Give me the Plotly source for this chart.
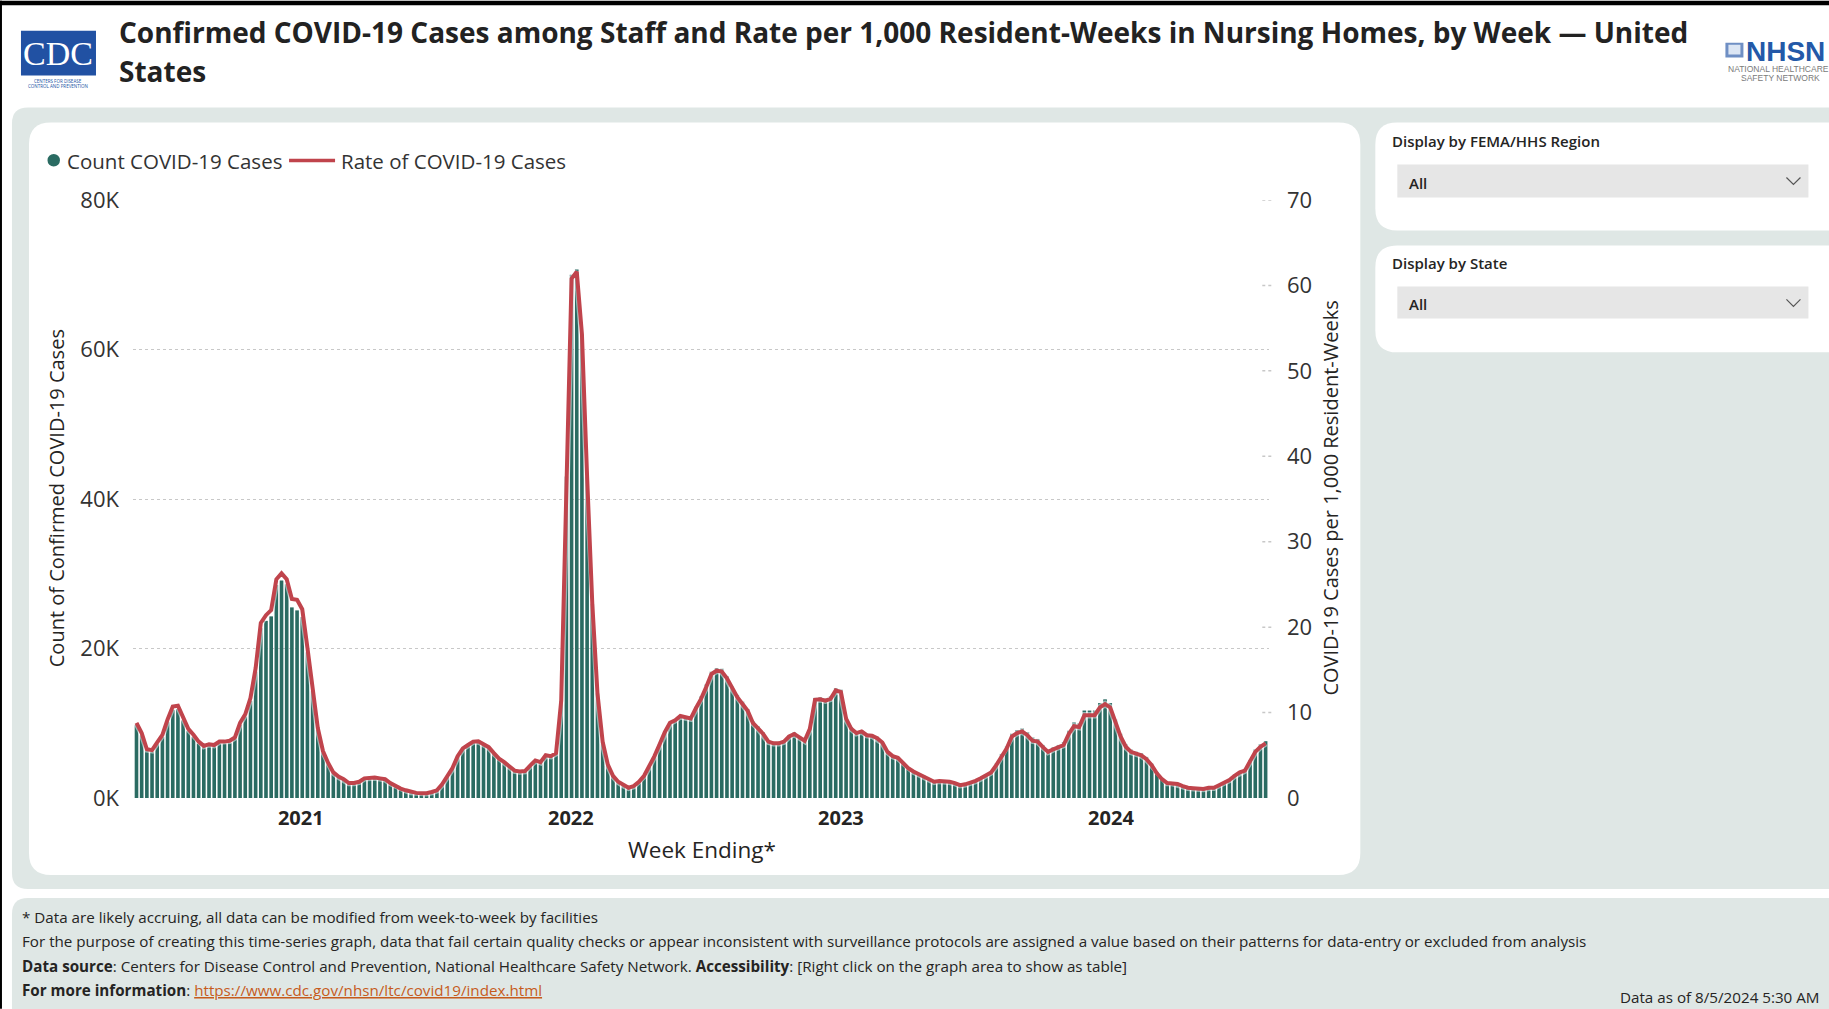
import plotly.graph_objects as go
import pandas as pd

# ---------------- data ----------------
week_start = "2020-05-24"   # first week ending shown

counts = [
    9800, 8400, 6300, 6200, 7200, 8200, 10200, 11800, 11900, 10400,
    9000, 8200, 7300, 6800, 7000, 6900, 7300, 7300, 7400, 7900,
    9800, 10900, 13000, 16900, 22700, 23700, 24300, 28500, 29100, 28600,
    25500, 25100, 24200, 19500, 14300, 9100, 6100, 4600, 3300, 2800,
    2400, 1900, 1900, 2100, 2500, 2600, 2600, 2500, 2400, 1900,
    1500, 1200, 950, 750, 650, 600, 600, 800, 1000, 1800,
    2800, 4000, 5600, 6600, 7100, 7500, 7600, 7200, 6800, 6000,
    5300, 4800, 4200, 3700, 3500, 3600, 4300, 5000, 4800, 5700,
    5600, 6000, 13000, 43000, 70000, 70700, 62000, 43000, 26000, 14000,
    7500, 4500, 3000, 2200, 1700, 1400, 1600, 2200, 3000, 4200,
    5600, 7200, 8800, 10100, 10400, 11000, 10700, 10600, 12200, 13600,
    15200, 16900, 17400, 17300, 16300, 14900, 13800, 12900, 11900, 10300,
    9600, 8800, 7700, 7400, 7400, 7700, 8400, 8800, 8300, 7900,
    9500, 13400, 13500, 13300, 13600, 14700, 14500, 10800, 9500, 8900,
    9100, 8600, 8500, 8200, 7500, 6300, 5700, 5500, 4800, 4100,
    3600, 3300, 3000, 2650, 2250, 2350, 2350, 2250, 2050, 1750,
    1850, 2050, 2350, 2650, 3100, 3600, 4600, 5900, 6900, 8600,
    9100, 9300, 8800, 8100, 7900, 7100, 6500, 6800, 7100, 7500,
    9000, 10100, 10000, 11700, 11700, 11700, 12700, 13200, 12700, 10500,
    8600, 7200, 6500, 6200, 6000, 5500, 4600, 3500, 2600, 2100,
    2100, 2000, 1700, 1500, 1400, 1400, 1300, 1500, 1500, 1800,
    2100, 2500, 3150, 3600, 3900, 5100, 6500, 7200, 7600,
]

rates = [
    8.8, 7.6, 5.7, 5.6, 6.5, 7.4, 9.2, 10.7, 10.8, 9.4,
    8.1, 7.4, 6.6, 6.1, 6.3, 6.2, 6.6, 6.6, 6.7, 7.1,
    8.8, 9.8, 11.7, 15.2, 20.5, 21.4, 22.0, 25.6, 26.3, 25.6,
    23.3, 23.2, 22.1, 17.6, 13.0, 8.2, 5.5, 4.1, 3.0, 2.5,
    2.2, 1.75, 1.75, 1.9, 2.3, 2.4, 2.4, 2.3, 2.2, 1.75,
    1.4, 1.1, 0.9, 0.7, 0.6, 0.55, 0.55, 0.7, 0.9, 1.6,
    2.45, 3.5, 4.9, 5.8, 6.2, 6.6, 6.65, 6.3, 5.95, 5.25,
    4.6, 4.2, 3.7, 3.2, 3.1, 3.15, 3.8, 4.4, 4.2, 5.0,
    4.9, 5.25, 11.4, 37.6, 60.8, 61.6, 54.3, 37.6, 22.75, 12.25,
    6.6, 3.9, 2.6, 1.9, 1.5, 1.2, 1.4, 1.9, 2.6, 3.7,
    4.9, 6.3, 7.7, 8.8, 9.1, 9.6, 9.4, 9.3, 10.5, 11.6,
    13.0, 14.5, 14.9, 14.8, 14.0, 12.8, 11.8, 11.0, 10.2, 8.8,
    8.2, 7.5, 6.6, 6.4, 6.4, 6.6, 7.2, 7.5, 7.1, 6.7,
    8.1, 11.5, 11.55, 11.4, 11.6, 12.6, 12.4, 9.3, 8.1, 7.6,
    7.8, 7.35, 7.3, 7.0, 6.5, 5.4, 4.9, 4.7, 4.1, 3.5,
    3.1, 2.8, 2.5, 2.3, 1.9, 2.0, 2.0, 1.9, 1.75, 1.5,
    1.6, 1.75, 2.0, 2.3, 2.6, 3.0, 3.85, 4.9, 5.8, 7.2,
    7.6, 7.8, 7.35, 6.7, 6.6, 5.95, 5.4, 5.7, 5.95, 6.2,
    7.5, 8.4, 8.3, 9.7, 9.7, 9.7, 10.6, 11.0, 10.6, 8.75,
    7.2, 6.0, 5.4, 5.2, 5.0, 4.55, 3.85, 2.9, 2.2, 1.75,
    1.75, 1.65, 1.4, 1.2, 1.15, 1.15, 1.05, 1.2, 1.2, 1.5,
    1.75, 2.1, 2.6, 3.0, 3.2, 4.3, 5.4, 6.0, 6.4,
]

weeks = pd.date_range(week_start, periods=len(counts), freq="7D")

left_tickvals = [0, 20000, 40000, 60000, 80000]
left_ticktext = ["0K", "20K", "40K", "60K", "80K"]
right_tickvals = [0, 10, 20, 30, 40, 50, 60, 70]
year_tickvals = ["2021-01-01", "2022-01-01", "2023-01-01", "2024-01-01"]
year_ticktext = ["2021", "2022", "2023", "2024"]

count_label = "Count COVID-19 Cases"
rate_label = "Rate of COVID-19 Cases"

# ---------------- layout geometry (pixels) ----------------
W, H = 1829, 1009
L, R_EDGE, T, B_EDGE = 133, 1268.7, 199.5, 798
PW, PH = R_EDGE - L, B_EDGE - T
DAYS_PER_PX = 365.0 / 270.0

x_start = weeks[0] - pd.Timedelta(days=(136.5 - L) * DAYS_PER_PX)
x_end = x_start + pd.Timedelta(days=PW * DAYS_PER_PX)


def X(px):
    return (px - L) / PW


def Y(py):
    return (B_EDGE - py) / PH


BAR = "#2a6b62"
RED = "#c0444c"
FONT = "Open Sans"
TXT = "#252423"
PANEL = "#dfe7e5"

fig = go.Figure()

fig.add_trace(go.Bar(
    x=weeks, y=counts, marker=dict(color=BAR, line=dict(width=0)),
    name=count_label, showlegend=False, yaxis="y",
))
fig.add_trace(go.Scatter(
    x=weeks, y=rates, mode="lines", yaxis="y2", showlegend=False,
    line=dict(color="rgba(255,255,255,0.5)", width=6.5), hoverinfo="skip",
))
fig.add_trace(go.Scatter(
    x=weeks, y=rates, mode="lines", yaxis="y2", name=rate_label, showlegend=False,
    line=dict(color=RED, width=4),
))


def rrect(x0, y0, x1, y1, r):
    p = (f"M {X(x0 + r)},{Y(y0)} L {X(x1 - r)},{Y(y0)} "
         f"Q {X(x1)},{Y(y0)} {X(x1)},{Y(y0 + r)} L {X(x1)},{Y(y1 - r)} "
         f"Q {X(x1)},{Y(y1)} {X(x1 - r)},{Y(y1)} L {X(x0 + r)},{Y(y1)} "
         f"Q {X(x0)},{Y(y1)} {X(x0)},{Y(y1 - r)} L {X(x0)},{Y(y0 + r)} "
         f"Q {X(x0)},{Y(y0)} {X(x0 + r)},{Y(y0)} Z")
    return p


shapes = []


def add_path(path, fill, line_color=None, width=0, layer="below"):
    shapes.append(dict(type="path", path=path, xref="paper", yref="paper",
                       fillcolor=fill, line=dict(color=line_color or fill, width=width),
                       layer=layer))


# background panels
add_path(rrect(12, 107, 1860, 889, 16), PANEL)
add_path(rrect(12, 898, 1860, 1040, 16), PANEL)
# chart card
add_path(rrect(29, 122, 1360, 875, 22), "white")
# slicer cards
add_path(rrect(1375, 122, 1860, 230, 22), "white")
add_path(rrect(1375, 245, 1860, 352, 22), "white")
# dropdown boxes
add_path(rrect(1397, 164, 1808, 197, 0.1), "#e6e6e6")
add_path(rrect(1397, 286, 1808, 318, 0.1), "#e6e6e6")
# chevrons
for cy in (181, 303):
    shapes.append(dict(type="path", xref="paper", yref="paper", layer="above",
                       path=f"M {X(1786)},{Y(cy - 4)} L {X(1793)},{Y(cy + 3)} L {X(1800)},{Y(cy - 4)}",
                       line=dict(color="#555555", width=1.2)))
# page borders
add_path(rrect(0, 0, 1829, 4.5, 0.1), "#000000", layer="above")
add_path(rrect(0, 0, 2, 1009, 0.1), "#000000", layer="above")
# CDC logo box
add_path(rrect(21, 30, 96, 75, 0.1), "#2151a3")
# NHSN icon
add_path(rrect(1725, 42, 1743, 57, 0.1), "#6f8fc4")
add_path(rrect(1728, 44, 1740, 54, 0.1), "#dce6f4")
# manual legend marks
shapes.append(dict(type="circle", xref="paper", yref="paper", layer="above",
                   x0=X(47.5), x1=X(60), y0=Y(166), y1=Y(153.5),
                   fillcolor=BAR, line=dict(width=0)))
shapes.append(dict(type="line", xref="paper", yref="paper", layer="above",
                   x0=X(289), x1=X(335), y0=Y(160), y1=Y(160),
                   line=dict(color=RED, width=3.5)))
# short dotted right-axis guide marks next to the right tick labels
for v in right_tickvals[1:]:
    shapes.append(dict(type="line", xref="paper", yref="y2", layer="above",
                       x0=X(1262), x1=X(1273), y0=v, y1=v,
                       line=dict(color="#c8c8c8", width=1.5, dash="dot")))

annotations = []


def text(x, y, s, size, color=TXT, xanchor="left", yanchor="middle", family=FONT,
         weight="normal", angle=0):
    annotations.append(dict(x=X(x), y=Y(y), xref="paper", yref="paper", text=s,
                            showarrow=False, xanchor=xanchor, yanchor=yanchor,
                            textangle=angle,
                            font=dict(size=size, color=color, family=family, weight=weight)))


# title
text(117, 31, "Confirmed COVID-19 Cases among Staff and Rate per 1,000 Resident-Weeks in Nursing Homes, by Week \u2014 United",
     28, "#222222", weight="bold")
text(117, 70, "States", 28, "#222222", weight="bold")
# CDC logo
text(58.5, 53, "CDC", 34, "white", xanchor="center", family="Liberation Serif")
text(58.5, 80, "CENTERS FOR DISEASE", 4.5, "#2151a3", xanchor="center")
text(58.5, 85, "CONTROL AND PREVENTION", 4.5, "#2151a3", xanchor="center")
# NHSN logo
text(1744, 51, "NHSN", 28, "#2459a8", weight="bold", family="Liberation Sans")
text(1726, 68, "NATIONAL HEALTHCARE", 8.5, "#7a7a7a", family="Liberation Sans")
text(1739, 77, "SAFETY NETWORK", 8.5, "#7a7a7a", family="Liberation Sans")

# legend texts
text(65, 160, count_label, 20.5, "#333333")
text(339, 160, rate_label, 20.5, "#333333")

# axis titles
text(56, 498, "Count of Confirmed COVID-19 Cases", 20, "#252423", xanchor="center", angle=-90)
text(1330, 498, "COVID-19 Cases per 1,000 Resident-Weeks", 20, "#252423", xanchor="center", angle=-90)
text(702, 850, "Week Ending*", 22.5, "#252423", xanchor="center")

# slicers
text(1390, 140, "Display by FEMA/HHS Region", 15, "#252423", weight=600)
text(1407, 182, "All", 15, "#252423", weight=600)
text(1390, 263, "Display by State", 15, "#252423", weight=600)
text(1407, 304, "All", 15, "#252423", weight=600)

# footer
FS = 15.2
text(20, 917, "* Data are likely accruing, all data can be modified from week-to-week by facilities", FS)
text(20, 941, "For the purpose of creating this time-series graph, data that fail certain quality checks or appear inconsistent with surveillance protocols are assigned a value based on their patterns for data-entry or excluded from analysis", FS)
text(20, 966, "<b>Data source</b>: Centers for Disease Control and Prevention, National Healthcare Safety Network. <b>Accessibility</b>: [Right click on the graph area to show as table]", FS)
text(20, 990, "<b>For more information</b>: <span style='color:#c65b1c'><u>https://www.cdc.gov/nhsn/ltc/covid19/index.html</u></span>", FS)
text(1822, 997, "Data as of 8/5/2024 5:30 AM", FS, xanchor="right")

fig.update_layout(
    width=W, height=H,
    margin=dict(l=L, r=W - R_EDGE, t=T, b=H - B_EDGE, pad=0),
    paper_bgcolor="white", plot_bgcolor="rgba(0,0,0,0)",
    bargap=0.3,
    showlegend=False,
    hovermode=False,
    xaxis=dict(type="date", range=[x_start, x_end], tickvals=year_tickvals,
               ticktext=year_ticktext, showgrid=False, zeroline=False, showline=False,
               ticks="", tickfont=dict(size=20, color="#252423", family=FONT, weight="bold"),
               ticklabelstandoff=6),
    yaxis=dict(range=[0, 80000], tickvals=left_tickvals, ticktext=left_ticktext,
               showgrid=True, gridcolor="#c8c8c8", griddash="dot", gridwidth=1,
               zeroline=False, showline=False, ticks="",
               tickfont=dict(size=22, color="#333333", family=FONT), ticklabelstandoff=13),
    yaxis2=dict(range=[0, 70], tickvals=right_tickvals, overlaying="y", side="right",
                showgrid=False, zeroline=False, showline=False, ticks="",
                tickfont=dict(size=22, color="#333333", family=FONT), ticklabelstandoff=17),
    shapes=shapes,
    annotations=annotations,
)

fig.write_html("out.html", config={"displayModeBar": False},
               post_script="document.body.style.margin='0px';")
